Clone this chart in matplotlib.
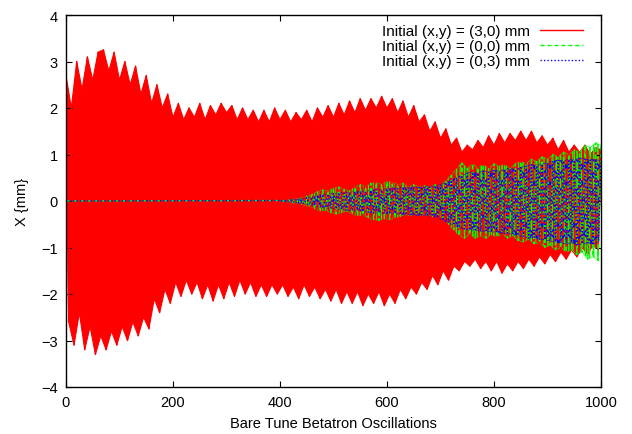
import numpy as np
import matplotlib
matplotlib.use('Agg')
import matplotlib.pyplot as plt
from matplotlib.lines import Line2D

# Turn positions of the read-off peaks (tops at every 10 turns, bottoms in between)
turns_hi = np.arange(0, 1001, 10)
turns_lo = np.arange(5, 1000, 10)
late_hi = np.arange(400, 1001, 10)
late_lo = np.arange(405, 1000, 10)

# Initial (x,y) = (3,0) mm : peak values
red_hi = [2.7, 2.0, 3.0, 2.4, 3.1, 2.6, 3.2, 3.25, 2.8, 3.2,
          2.6, 3.0, 2.5, 2.9, 2.3, 2.7, 2.1, 2.5, 2.0, 2.3,
          1.8, 2.1, 1.75, 2.0, 1.8, 2.1, 1.75, 2.05, 1.85, 2.1,
          1.9, 2.05, 1.75, 2.0, 1.75, 1.95, 1.7, 1.95, 1.7, 2.0,
          1.75, 1.95, 1.7, 1.9, 1.75, 1.95, 1.7, 2.0, 1.8, 2.05,
          1.8, 2.1, 1.85, 2.15, 1.9, 2.2, 1.95, 2.2, 2.0, 2.25,
          2.0, 2.2, 1.9, 2.15, 1.8, 2.05, 1.7, 1.85, 1.5, 1.7,
          1.35, 1.55, 1.2, 1.35, 1.05, 1.2, 1.1, 1.3, 1.15, 1.4,
          1.2, 1.45, 1.25, 1.45, 1.3, 1.5, 1.3, 1.5, 1.25, 1.4,
          1.2, 1.35, 1.1, 1.3, 1.05, 1.2, 1.05, 1.2, 1.0, 1.15,
          1.1]
red_lo = [-2.6, -3.1, -2.4, -3.2, -2.7, -3.3, -2.9, -3.2, -2.8, -3.1,
          -2.7, -3.0, -2.6, -2.9, -2.5, -2.75, -2.1, -2.4, -1.9, -2.2,
          -1.75, -2.05, -1.7, -2.0, -1.75, -2.1, -1.8, -2.15, -1.8, -2.1,
          -1.75, -2.05, -1.7, -2.0, -1.75, -2.05, -1.8, -2.05, -1.8, -2.0,
          -1.8, -2.05, -1.85, -2.1, -1.8, -2.05, -1.85, -2.1, -1.9, -2.15,
          -1.9, -2.2, -1.95, -2.2, -1.95, -2.25, -2.0, -2.2, -1.95, -2.25,
          -2.0, -2.2, -1.9, -2.1, -1.85, -2.0, -1.75, -1.9, -1.6, -1.8,
          -1.5, -1.7, -1.4, -1.5, -1.3, -1.4, -1.25, -1.45, -1.3, -1.5,
          -1.3, -1.55, -1.35, -1.5, -1.3, -1.45, -1.25, -1.4, -1.2, -1.35,
          -1.15, -1.3, -1.1, -1.25, -1.05, -1.2, -1.0, -1.15, -0.95, -1.05]

# Initial (x,y) = (0,0) mm : flat until ~400 turns
green_hi = [0.01, 0.02, 0.03, 0.05, 0.07, 0.1, 0.14, 0.2, 0.24, 0.22,
            0.28, 0.3, 0.25, 0.22, 0.3, 0.35, 0.3, 0.38, 0.4, 0.36,
            0.42, 0.4, 0.35, 0.38, 0.3, 0.35, 0.3, 0.33, 0.3, 0.35,
            0.32, 0.45, 0.55, 0.7, 0.82, 0.7, 0.8, 0.72, 0.78, 0.7,
            0.8, 0.75, 0.78, 0.7, 0.8, 0.85, 0.8, 0.9, 0.85, 0.95,
            0.9, 1.0, 0.95, 1.05, 1.0, 1.1, 1.05, 1.2, 1.15, 1.25,
            1.2]
green_lo = [-0.01, -0.02, -0.04, -0.06, -0.09, -0.12, -0.17, -0.22, -0.2, -0.25,
            -0.28, -0.25, -0.22, -0.28, -0.32, -0.3, -0.36, -0.4, -0.42, -0.38,
            -0.4, -0.36, -0.33, -0.3, -0.32, -0.28, -0.32, -0.3, -0.33, -0.3,
            -0.38, -0.5, -0.62, -0.75, -0.8, -0.72, -0.8, -0.75, -0.8, -0.72,
            -0.78, -0.7, -0.8, -0.75, -0.85, -0.88, -0.82, -0.92, -0.9, -1.0,
            -0.95, -1.05, -1.0, -1.1, -1.05, -1.15, -1.1, -1.25, -1.2, -1.28]

# Initial (x,y) = (0,3) mm
blue_hi = [0.01, 0.015, 0.02, 0.03, 0.05, 0.07, 0.09, 0.12, 0.14, 0.15,
           0.16, 0.18, 0.17, 0.19, 0.2, 0.22, 0.2, 0.23, 0.25, 0.24,
           0.26, 0.28, 0.27, 0.3, 0.28, 0.3, 0.29, 0.31, 0.3, 0.33,
           0.35, 0.4, 0.45, 0.5, 0.55, 0.6, 0.62, 0.6, 0.65, 0.62,
           0.66, 0.64, 0.68, 0.7, 0.68, 0.72, 0.75, 0.78, 0.76, 0.8,
           0.82, 0.85, 0.88, 0.86, 0.9, 0.88, 0.92, 0.9, 0.88, 0.9,
           0.85]
blue_lo = [-0.01, -0.015, -0.025, -0.04, -0.06, -0.08, -0.1, -0.13, -0.15, -0.16,
           -0.17, -0.18, -0.2, -0.21, -0.2, -0.23, -0.24, -0.26, -0.25, -0.27,
           -0.28, -0.27, -0.29, -0.3, -0.29, -0.31, -0.3, -0.32, -0.33, -0.36,
           -0.42, -0.47, -0.52, -0.57, -0.6, -0.63, -0.62, -0.66, -0.64, -0.67,
           -0.66, -0.7, -0.69, -0.72, -0.74, -0.76, -0.8, -0.78, -0.82, -0.84,
           -0.86, -0.88, -0.9, -0.92, -0.9, -0.94, -0.92, -0.9, -0.92, -0.88]

labels = ['Initial (x,y) = (3,0) mm', 'Initial (x,y) = (0,0) mm', 'Initial (x,y) = (0,3) mm']
colors = ['#ff0000', '#00ff00', '#0000ff']
styles = ['-', (0, (3, 2)), (0, (1, 1.5))]


def merge(t_hi, hi, t_lo, lo, start=False):
    t = np.concatenate([t_hi, t_lo])
    v = np.concatenate([hi, lo])
    if start:
        t = np.concatenate([[0], t])
        v = np.concatenate([[0.0], v])
    o = np.argsort(t, kind='stable')
    return t[o], v[o]


def band(t_hi, hi, t_lo, lo):
    # outline: tops left->right, bottoms right->left
    xs = np.concatenate([t_hi, t_lo[::-1]])
    ys = np.concatenate([hi, lo[::-1]])
    return xs, ys


plt.rcParams['font.family'] = ['Liberation Sans', 'DejaVu Sans']
plt.rcParams['font.size'] = 10.5
plt.rcParams['hatch.linewidth'] = 1.2

fig = plt.figure(figsize=(6.32, 4.35), dpi=100)
ax = fig.add_axes([66 / 632, 47 / 435, 535 / 632, 372 / 435])

# red envelope
bx, by = band(turns_hi, red_hi, turns_lo, red_lo)
ax.fill(bx, by, color=colors[0], lw=0.8)
tr, vr = merge(turns_hi, red_hi, turns_lo, red_lo)
ax.plot(tr, vr, color=colors[0], lw=1.0)

# green envelope + oscillation
bx, by = band(late_hi, green_hi, late_lo, green_lo)
ax.fill(bx, by, facecolor='none', edgecolor=colors[1], hatch='||||', lw=0.4)
tg, vg = merge(late_hi, green_hi, late_lo, green_lo, start=True)
ax.plot(tg, vg, color=colors[1], lw=1.0, ls=styles[1])

# blue envelope + oscillation
bx, by = band(late_hi, blue_hi, late_lo, blue_lo)
ax.fill(bx, by, facecolor='none', edgecolor=colors[2], hatch='xx', lw=0.4)
tb, vb = merge(late_hi, blue_hi, late_lo, blue_lo, start=True)
ax.plot(tb, vb, color=colors[2], lw=1.0, ls=styles[2])

ax.set_xlim(0, 1000)
ax.set_ylim(-4, 4)
ax.set_xticks(range(0, 1001, 200))
ax.set_yticks(range(-4, 5))
ax.tick_params(direction='in', top=True, right=True, length=4.5, width=0.8, pad=6)
for s in ax.spines.values():
    s.set_linewidth(1.0)

ax.set_xlabel('Bare Tune Betatron Oscillations', labelpad=5)
ax.set_ylabel('X {mm}', labelpad=9)

handles = [Line2D([], [], color=c, lw=1.0, ls=s) for c, s in zip(colors, styles)]
ax.legend(handles, labels, loc='upper right', frameon=False, markerfirst=False,
          bbox_to_anchor=(583 / 632, (435 - 25) / 435), bbox_transform=fig.transFigure,
          borderaxespad=0, borderpad=0, handlelength=2.8, handletextpad=0.7,
          labelspacing=0.08, prop={'size': 11})

fig.savefig('out.png', dpi=100)
